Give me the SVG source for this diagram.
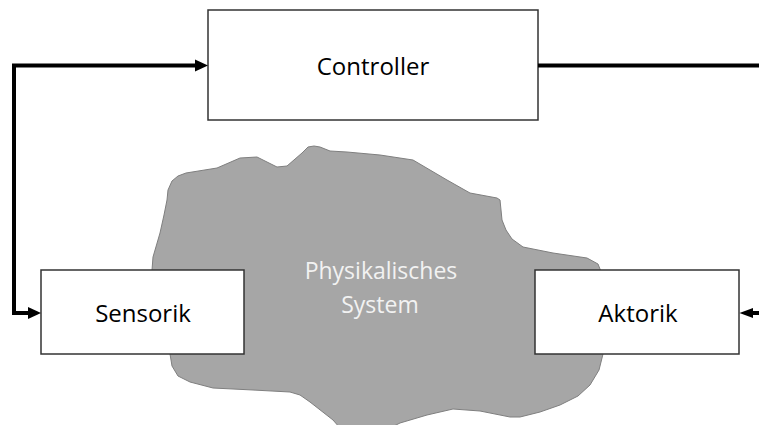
<svg xmlns="http://www.w3.org/2000/svg" width="759" height="425" viewBox="0 0 759 425">
<style>
.box{fill:#ffffff;stroke:#333333;stroke-width:1.5}
.lbl{font-family:"Open Sans","Liberation Sans",sans-serif;font-size:24px;fill:#000000;text-anchor:middle}
.sys{font-family:"Open Sans","Liberation Sans",sans-serif;font-size:23px;fill:#f2f2f2;text-anchor:middle}
.wire{fill:none;stroke:#000000;stroke-width:4}
.head{fill:#000000}
</style>
<rect width="759" height="425" fill="#ffffff"/>
<g id="system">
<path d="M167,200 L168,190 L172,181 L178,176 L186,173 L217,168 L240,158 L257,157 L277,167 L287,166 L302,153 L308,147 L314,146 L320,147 L330,151 L347,152 L380,155 L413,160 L447,180 L470,193 L497,198 L500,200 L502,220 L506,230 L512,239 L523,247 L553,253 L587,258 L598,264 L602,274 L604,290 L605,330 L603,354 L599,370 L590,385 L578,396 L560,405 L540,412 L520,417 L510,417 L480,411 L453,409 L427,415 L400,423 L390,428 L340,428 L333,420 L310,402 L300,395 L290,392 L253,390 L213,388 L190,382 L178,376 L172,366 L170,354 L160,330 L152,270 L153,257 L160,233 L164,215 Z" fill="#a6a6a6" stroke="#7f7f7f" stroke-width="1"/>
<text class="sys" x="381" y="279">Physikalisches</text>
<text class="sys" x="380" y="313">System</text>
</g>
<g id="controller">
<rect class="box" x="208" y="10" width="330" height="110"/>
<text class="lbl" x="373" y="75">Controller</text>
</g>
<g id="sensorik">
<rect class="box" x="41" y="270" width="203" height="84"/>
<text class="lbl" x="143" y="322">Sensorik</text>
</g>
<g id="aktorik">
<rect class="box" x="535" y="270" width="204" height="84"/>
<text class="lbl" x="638" y="322">Aktorik</text>
</g>
<g id="connectors">
<polyline class="wire" points="196,65.5 14,65.5 14,313 29,313"/>
<polygon class="head" points="208,65.5 195,59.5 195,71.5"/>
<polygon class="head" points="41,313 28,307 28,319"/>
<polyline class="wire" points="538,65.5 759,65.5"/>
<line class="wire" x1="759" y1="313" x2="750" y2="313"/>
<polygon class="head" points="739.5,313 753,308 753,318"/>
</g>
</svg>
